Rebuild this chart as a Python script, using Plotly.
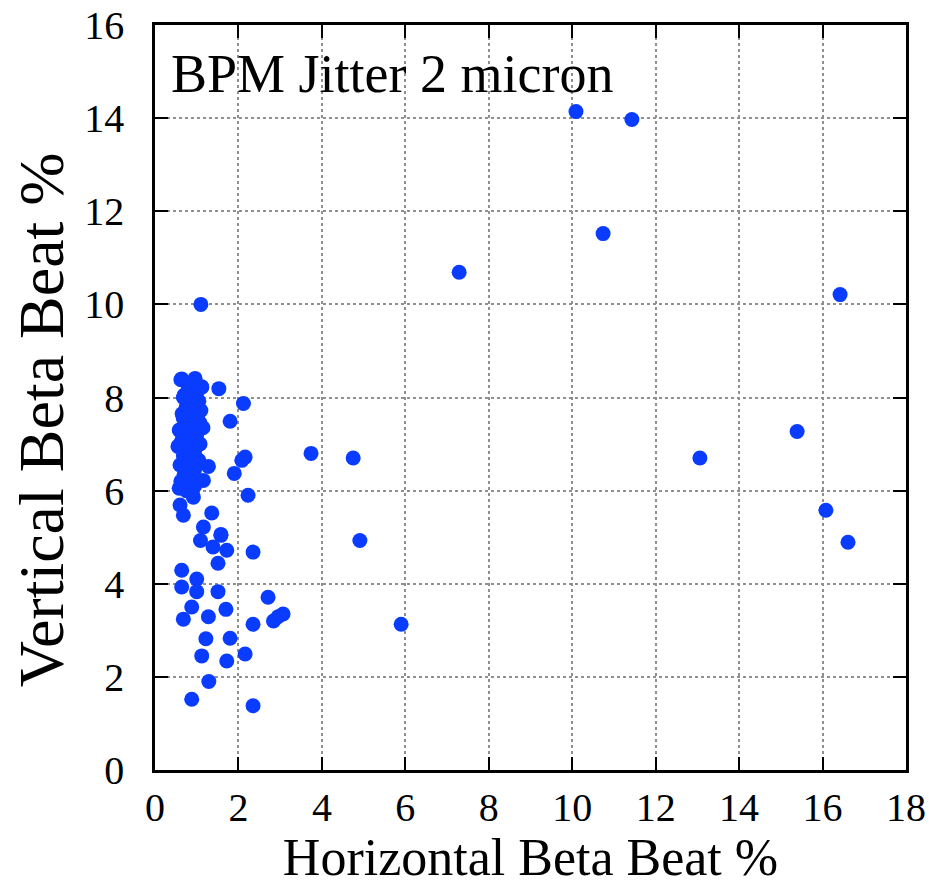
import plotly.graph_objects as go

x_outer = [10.09, 11.43, 10.74, 7.29, 16.42, 15.39, 13.06, 16.08, 16.61, 5.9, 4.91, 4.75, 3.74, 1.10]
y_outer = [14.14, 13.97, 11.52, 10.69, 10.21, 7.27, 6.70, 5.58, 4.89, 3.13, 4.93, 6.70, 6.80, 10.0]

x_mid = [0.64, 0.96, 1.12, 1.53, 2.12, 0.68, 1.80, 2.16, 2.08, 1.28, 1.90, 1.16, 2.23, 0.60, 0.92,
         0.68, 1.36, 1.16, 1.58, 1.58, 1.09, 1.39, 1.72, 2.35, 1.51, 0.64, 1.00, 0.64, 1.00, 1.51,
         2.71, 0.88, 1.70, 0.68, 1.28, 2.35, 2.84, 3.07, 2.95, 1.22, 1.80, 2.16, 1.12, 1.72, 1.29,
         0.88, 2.35]
y_mid = [8.40, 8.41, 8.23, 8.19, 7.87, 8.00, 7.49, 6.72, 6.65, 6.52, 6.37, 6.22, 5.90, 5.69, 5.86,
         5.47, 5.52, 5.22, 5.06, 5.04, 4.93, 4.79, 4.72, 4.68, 4.44, 4.29, 4.10, 3.93, 3.83, 3.83,
         3.71, 3.50, 3.45, 3.24, 3.29, 3.13, 3.20, 3.35, 3.29, 2.82, 2.83, 2.49, 2.45, 2.34, 1.90,
         1.52, 1.38]

x_dense = [0.62, 0.95, 1.12, 0.70, 0.85, 1.05, 0.75, 0.95, 1.10, 0.65, 0.85, 1.02, 0.72, 0.90, 1.15,
           0.58, 0.80, 1.00, 0.65, 0.88, 1.08, 0.55, 0.75, 0.95, 0.68, 0.85, 1.05, 0.60, 0.78, 0.95,
           0.70, 0.88, 0.62, 0.80, 0.95, 0.58, 0.75, 0.90, 0.68, 0.80, 1.00, 0.60, 1.08]
y_dense = [8.38, 8.38, 8.22, 8.05, 7.95, 7.92, 7.80, 7.75, 7.72, 7.65, 7.60, 7.55, 7.45, 7.40, 7.35,
           7.30, 7.25, 7.20, 7.10, 7.05, 7.00, 6.95, 6.90, 6.85, 6.75, 6.70, 6.65, 6.55, 6.50, 6.45,
           6.35, 6.30, 6.20, 6.15, 6.10, 6.05, 6.00, 5.92, 7.55, 8.20, 8.10, 7.00, 7.45]

xs = x_outer + x_mid + x_dense
ys = y_outer + y_mid + y_dense

x_ticks = list(range(0, 19, 2))
y_ticks = list(range(0, 17, 2))

fig = go.Figure(go.Scatter(
    x=xs, y=ys, mode="markers",
    marker=dict(color="#0a3cff", size=15, line=dict(width=0)),
    showlegend=False,
))

font_family = "Liberation Serif"
axis_common = dict(
    showline=True, linecolor="black", linewidth=2.5, mirror="allticks",
    ticks="inside", ticklen=13, tickwidth=2, tickcolor="black",
    showgrid=True, gridcolor="#909090", griddash="dot", gridwidth=1.5,
    zeroline=False, automargin=False,
    tickfont=dict(family=font_family, size=40, color="black"),
)

fig.update_xaxes(range=[0, 18], tickvals=x_ticks, ticktext=[str(v) for v in x_ticks],
                 title=dict(text="Horizontal Beta Beat %", font=dict(family=font_family, size=52, color="black"), standoff=3),
                 **axis_common)
fig.update_yaxes(range=[0, 16], tickvals=y_ticks, ticktext=[str(v) + "\u00a0\u00a0" for v in y_ticks],
                 **axis_common)

fig.add_annotation(text="Vertical Beta Beat %", xref="paper", yref="paper", x=-0.150, y=0.47,
                   xanchor="center", yanchor="middle", textangle=-90, showarrow=False,
                   font=dict(family=font_family, size=64, color="black"))

fig.add_annotation(text="BPM Jitter 2 micron", xref="paper", yref="paper", x=0.018, y=0.977,
                   xanchor="left", yanchor="top", showarrow=False,
                   font=dict(family=font_family, size=54, color="black"))

fig.update_layout(
    template="none",
    width=929, height=886,
    margin=dict(l=155, r=23, t=25, b=116),
    paper_bgcolor="white", plot_bgcolor="white",
)

fig.write_html("out.html", config={"displayModeBar": False},
               post_script="document.body.style.margin='0px'; document.body.style.overflow='hidden';")
